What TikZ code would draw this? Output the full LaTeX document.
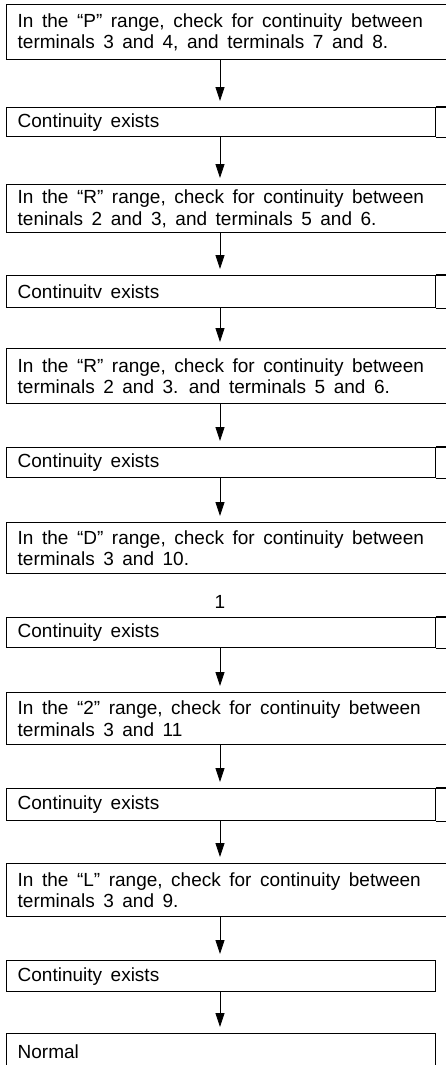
\documentclass[tikz,border=0pt]{standalone}
\usepackage{fontspec}
\setmainfont{Liberation Sans}
\usetikzlibrary{arrows.meta}
\newcommand{\boxfont}{\fontsize{19}{21.7}\selectfont\fontdimen2\font=0.45em\fontdimen3\font=0.3em\fontdimen4\font=0.05em\relax}
\begin{document}
\begin{tikzpicture}[x=1pt,y=-1pt,
  box/.style={draw, line width=1.4pt, rectangle, anchor=north west, inner xsep=11pt, inner ysep=0pt, align=flush left, font=\boxfont},
  longbox/.style={box, text width=420pt},
  shortbox/.style={box, text width=407pt},
  ext/.style={line width=1.4pt},
  arr/.style={-{Triangle[width=9pt,length=14pt]}, line width=0.8pt, shorten >=6pt},
  lbl/.style={font=\boxfont, inner sep=0pt}]
\useasboundingbox (0,0) rectangle (446,1065);
\fill[white] (0,0) rectangle (446,1065);
\coordinate (ax) at (220,0);

\node[longbox, minimum height=55pt] (b1) at (6,4) {In the “P” range, check for continuity between\\terminals 3 and 4, and terminals 7 and 8.};
\node[shortbox, minimum height=29pt] (b2) at (6,107) {Continuity exists};
\node[longbox, minimum height=48pt] (b3) at (6,184) {In the “R” range, check for continuity between\\teninals 2 and 3, and terminals 5 and 6.};
\node[shortbox, minimum height=32pt] (b4) at (6,275) {Continuitv exists};
\node[longbox, minimum height=55pt] (b5) at (6,348) {In the “R” range, check for continuity between\\terminals 2 and 3. and terminals 5 and 6.};
\node[shortbox, minimum height=30pt] (b6) at (6,447) {Continuity exists};
\node[longbox, minimum height=51pt] (b7) at (6,522) {In the “D” range, check for continuity between\\terminals 3 and 10.};
\node[lbl] (one) at (220,602) {1};
\node[shortbox, minimum height=30pt] (b8) at (6,617) {Continuity exists};
\node[longbox, minimum height=52pt] (b9) at (6,692) {In the “2” range, check for continuity between\\terminals 3 and 11};
\node[shortbox, minimum height=32pt] (b10) at (6,788) {Continuity exists};
\node[longbox, minimum height=53pt] (b11) at (6,863) {In the “L” range, check for continuity between\\terminals 3 and 9.};
\node[shortbox, minimum height=31pt] (b12) at (6,960) {Continuity exists};
\node[shortbox, minimum height=36pt] (b13) at (6,1033) {Normal};

\foreach \b in {b2,b4,b6,b8,b10}{
  \draw[ext] (\b.north east) -- ++(15,0) (\b.south east) -- ++(15,0);
}

\draw[arr] (b1.south -| ax) -- (b2.north -| ax);
\draw[arr] (b2.south -| ax) -- (b3.north -| ax);
\draw[arr] (b3.south -| ax) -- (b4.north -| ax);
\draw[arr] (b4.south -| ax) -- (b5.north -| ax);
\draw[arr] (b5.south -| ax) -- (b6.north -| ax);
\draw[arr] (b6.south -| ax) -- (b7.north -| ax);
\draw[arr] (b8.south -| ax) -- (b9.north -| ax);
\draw[arr] (b9.south -| ax) -- (b10.north -| ax);
\draw[arr] (b10.south -| ax) -- (b11.north -| ax);
\draw[arr] (b11.south -| ax) -- (b12.north -| ax);
\draw[arr] (b12.south -| ax) -- (b13.north -| ax);
\end{tikzpicture}
\end{document}
